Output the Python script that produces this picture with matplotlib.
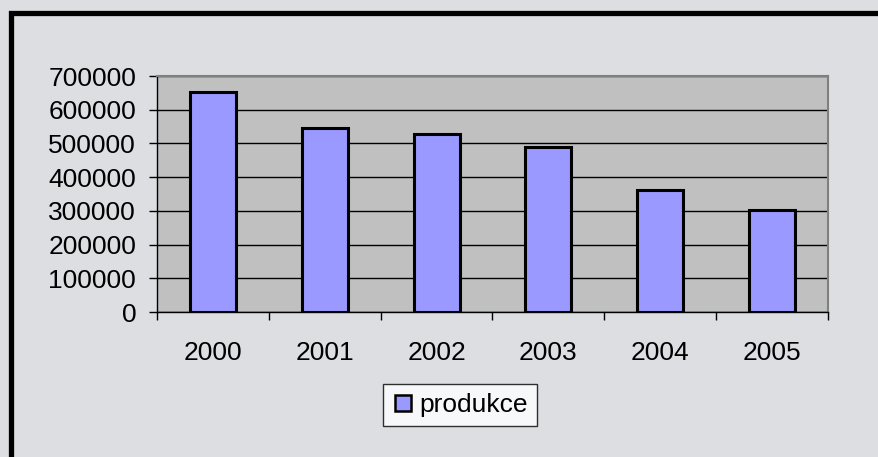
import matplotlib
matplotlib.use("Agg")
import matplotlib.pyplot as plt
from matplotlib.patches import Rectangle
from matplotlib.lines import Line2D

# data
roky = ["2000", "2001", "2002", "2003", "2004", "2005"]
produkce = [653500, 544500, 528700, 488100, 362400, 303000]
y_ticks = [0, 100000, 200000, 300000, 400000, 500000, 600000, 700000]

plt.rcParams['font.family'] = ['Liberation Sans', 'DejaVu Sans']
FS = 19

W, H = 879, 457
fig = plt.figure(figsize=(W / 100, H / 100), dpi=100)
fig.patch.set_facecolor('#dcdee2')

# plot area in pixels
left, right, top, bottom = 157, 828, 76, 312
ax = fig.add_axes([left / W, 1 - bottom / H, (right - left) / W, (bottom - top) / H])
ax.set_facecolor('#c0c0c0')

x = list(range(len(roky)))
ax.bar(x, produkce, width=0.41, color='#9999ff', edgecolor='black', linewidth=2.2, zorder=3)

ax.set_xlim(-0.5, len(roky) - 0.5)
ax.set_ylim(0, 700000)
ax.set_yticks(y_ticks)
ax.set_yticklabels([str(v) for v in y_ticks], fontsize=FS)
ax.yaxis.grid(True, color='black', linewidth=1.0, zorder=1)
ax.set_axisbelow(True)

# category labels centred, ticks on category boundaries
ax.set_xticks(x)
ax.set_xticklabels(roky, fontsize=FS)
ax.tick_params(axis='x', length=0, pad=21)
ax.set_xticks([i - 0.5 for i in range(len(roky) + 1)], minor=True)
ax.tick_params(axis='x', which='minor', length=6, width=1, direction='out')
ax.tick_params(axis='y', length=6, width=1, direction='out', pad=9)

for s in ['top', 'right']:
    ax.spines[s].set_color('#808080')
    ax.spines[s].set_linewidth(1.5)
for s in ['left', 'bottom']:
    ax.spines[s].set_color('black')
    ax.spines[s].set_linewidth(1.0)

# legend
handle = Line2D([], [], marker='s', linestyle='none', markersize=11,
                markerfacecolor='#9999ff', markeredgecolor='black', markeredgewidth=1.8)
leg = fig.legend([handle], ['produkce'], loc='center', bbox_to_anchor=(460 / W, 1 - 405 / H),
                 fontsize=FS, frameon=True, fancybox=False, handletextpad=0.2,
                 handlelength=0.8, borderpad=0.35, borderaxespad=0)
leg.get_frame().set_edgecolor('black')
leg.get_frame().set_linewidth(1.0)
leg.get_frame().set_facecolor('white')

# black frame of the chart (cut off on the right and bottom)
fig.add_artist(Rectangle((10.5 / W, -0.1), 1.2, 1.1 - 13.5 / H, transform=fig.transFigure,
                         fill=False, edgecolor='black', linewidth=3.8, clip_on=False))

fig.savefig("out.png", dpi=100, facecolor=fig.get_facecolor())
